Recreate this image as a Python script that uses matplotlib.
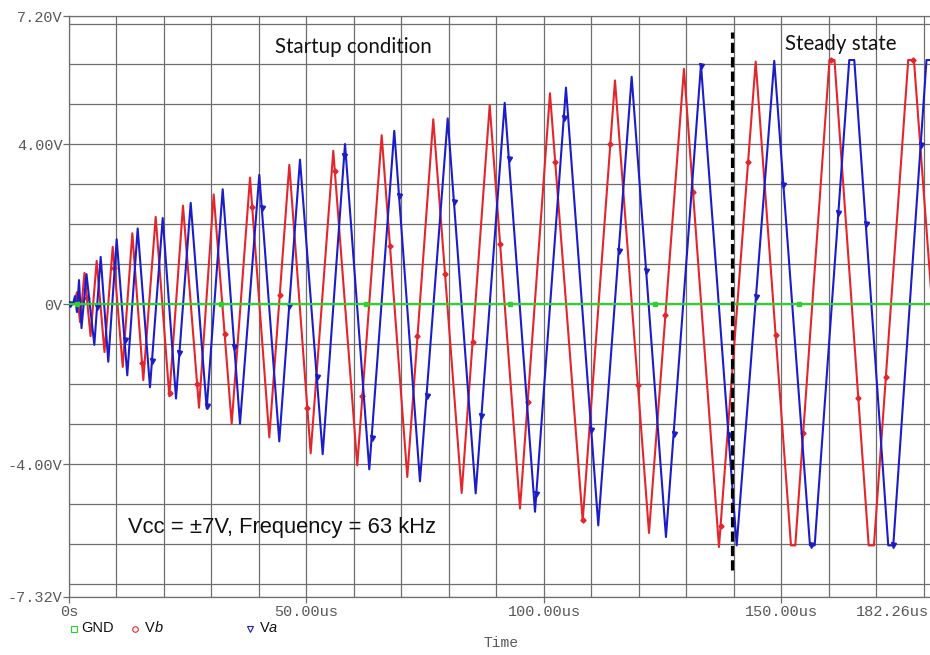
import numpy as np
import matplotlib
matplotlib.use("Agg")
import matplotlib.pyplot as plt
from matplotlib.ticker import MultipleLocator, FixedLocator
from matplotlib.lines import Line2D
from matplotlib.transforms import offset_copy

# ---------------- data (time in us, voltage in V) ----------------
vb_t = [0.00, 1.05, 1.68, 2.32, 3.26, 4.53, 5.83, 7.47, 9.20, 11.31, 13.33, 15.64,
        18.25, 21.12, 24.00, 27.37, 30.46, 34.25, 38.11, 42.17, 46.38, 50.88,
        55.64, 60.69, 65.83, 71.22, 76.69, 82.67, 88.57, 94.95, 101.26, 108.15,
        114.95, 122.11, 129.47, 136.84, 144.57, 152.00, 152.91, 160.11, 161.16,
        168.36, 169.47, 176.69, 177.89, 185.47]
vb_v = [0.00, 0.00, 0.30, -0.45, 0.78, -0.80, 1.08, -1.20, 1.43, -1.57, 1.77, -1.90,
        2.18, -2.30, 2.46, -2.59, 2.74, -2.99, 3.16, -3.33, 3.48, -3.73,
        3.83, -4.03, 4.22, -4.32, 4.62, -4.72, 4.97, -5.11, 5.27, -5.42,
        5.59, -5.72, 5.88, -6.07, 6.06, -6.03, -6.03, 6.10, 6.10,
        -6.03, -6.03, 6.10, 6.10, -6.03]

va_t = [0.00, 0.84, 1.26, 1.68, 2.11, 2.63, 3.68, 5.33, 6.67, 8.27, 10.04, 12.27,
        14.46, 17.05, 19.73, 22.53, 25.62, 28.99, 32.36, 36.00, 40.06, 44.27,
        48.63, 53.41, 58.11, 63.22, 68.48, 73.89, 79.73, 85.62, 91.73, 98.11,
        104.63, 111.43, 118.46, 125.68, 133.05, 140.57, 148.48, 156.00, 156.99,
        164.27, 165.33, 172.48, 173.54, 180.53, 181.58, 189.47]
va_v = [0.00, 0.00, 0.20, -0.20, 0.60, -0.60, 0.75, -1.02, 1.18, -1.44, 1.62, -1.78,
        1.89, -2.08, 2.15, -2.36, 2.53, -2.61, 2.87, -2.99, 3.23, -3.43,
        3.61, -3.75, 4.00, -4.13, 4.33, -4.43, 4.64, -4.73, 5.03, -5.19,
        5.41, -5.53, 5.68, -5.82, 5.98, -6.03, 6.08, -6.03, -6.03,
        6.10, 6.10, -6.03, -6.03, 6.10, 6.10, -6.03]

gnd_t = [0.0, 182.26]
gnd_v = [0.0, 0.0]

x_ticks = [0, 50, 100, 150, 182.26]
x_ticklabels = ["0s", "50.00us", "100.00us", "150.00us", "182.26us"]
y_ticks = [7.20, 4.00, 0.0, -4.00, -7.32]
y_ticklabels = ["7.20V", "4.00V", "0V", "-4.00V", "-7.32V"]

boundary_t = 139.5          # start of steady state (us)
boundary_v = (-6.65, 6.79)

# ---------------- style ----------------
RED = "#e3262c"
BLUE = "#1c1cc8"
GREEN = "#2fd12f"
GRID = "#6e6e6e"
LBL = "#585858"
MONO = "Liberation Mono"

W, H = 930, 655
fig = plt.figure(figsize=(W / 100, H / 100), dpi=100)
fig.patch.set_facecolor("white")
ax = fig.add_axes([69 / W, 58 / H, 865.7 / W, 581 / H])

ax.set_xlim(0, 182.26)
ax.set_ylim(-7.32, 7.20)

# grid
ax.xaxis.set_minor_locator(MultipleLocator(10))
ax.yaxis.set_minor_locator(MultipleLocator(1))
ax.grid(which="minor", color=GRID, lw=0.9)
ax.grid(which="major", color=GRID, lw=0.9)
ax.set_axisbelow(True)
ax.tick_params(which="minor", length=0)

ax.xaxis.set_major_locator(FixedLocator(x_ticks))
ax.set_xticklabels(x_ticklabels)
ax.yaxis.set_major_locator(FixedLocator(y_ticks))
ax.set_yticklabels(y_ticklabels)
ax.tick_params(which="major", length=4, width=0.9, color=GRID, labelcolor=LBL,
               labelsize=11)
ax.tick_params(axis="y", pad=0.5)
ax.tick_params(axis="x", pad=2)
for lab in ax.get_xticklabels() + ax.get_yticklabels():
    lab.set_fontfamily(MONO)
last = ax.get_xticklabels()[-1]
last.set_ha("right")
last.set_transform(offset_copy(last.get_transform(), fig=fig, x=-6, y=0, units="dots"))
for s in ax.spines.values():
    s.set_color(GRID)
    s.set_linewidth(0.9)

# traces
ax.plot(vb_t, vb_v, color=RED, lw=1.5, zorder=3)
ax.plot(va_t, va_v, color=BLUE, lw=1.5, zorder=4)
ax.plot(gnd_t, gnd_v, color=GREEN, lw=1.6, zorder=5)

# PSpice-style trace markers sampled along the traces
vb_mt = np.arange(3.77, 182.26, 5.8)
va_mt = np.arange(0.13, 182.26, 5.78)
gnd_mt = np.arange(1.7, 182.26, 30.4)
ax.plot(vb_mt, np.interp(vb_mt, vb_t, vb_v), ls="none", marker="D", ms=2.6,
        color=RED, zorder=3)
ax.plot(va_mt, np.interp(va_mt, va_t, va_v), ls="none", marker="v", ms=3.6,
        color=BLUE, zorder=4)
ax.plot(gnd_mt, np.interp(gnd_mt, gnd_t, gnd_v), ls="none", marker="s", ms=3.2,
        color=GREEN, zorder=5)

# steady-state boundary
ax.plot([boundary_t, boundary_t], boundary_v, color="black", lw=2.3,
        dashes=(3.2, 1.3), zorder=6)

# annotations
ax.text(0.329, 0.946, "Startup condition", transform=ax.transAxes, fontsize=14.8,
        family="Lato", ha="center", va="center", color="#111111")
ax.text(0.891, 0.952, "Steady state", transform=ax.transAxes, fontsize=14.8,
        family="Lato", ha="center", va="center", color="#111111")
ax.text(128 / W, 1 - 527 / H, "Vcc = \u00b17V, Frequency = 63 kHz",
        transform=fig.transFigure, fontsize=15.8, family="Liberation Sans",
        ha="left", va="center", color="#111111")

# legend row (PSpice style)
ly = 1 - 628.5 / H
fig.add_artist(Line2D([73.5 / W], [ly], marker="s", ms=5, mfc="none", mec=GREEN,
                      mew=0.8, ls="none", transform=fig.transFigure))
fig.text(81.5 / W, ly, "GND", fontsize=10.5, family="Liberation Sans",
         va="center", ha="left", color="#111111")
fig.add_artist(Line2D([135 / W], [ly], marker="o", ms=4, mfc="none", mec=RED,
                      mew=0.8, ls="none", transform=fig.transFigure))
fig.text(145 / W, ly, "V", fontsize=10.5, family="Liberation Sans",
         va="center", ha="left", color="#111111")
fig.text(154.5 / W, ly, "b", fontsize=10.5, family="Liberation Sans",
         style="italic", va="center", ha="left", color="#111111")
fig.add_artist(Line2D([249.5 / W], [ly], marker="v", ms=4.5, mfc="none", mec=BLUE,
                      mew=0.8, ls="none", transform=fig.transFigure))
fig.text(259.5 / W, ly, "V", fontsize=10.5, family="Liberation Sans",
         va="center", ha="left", color="#111111")
fig.text(269 / W, ly, "a", fontsize=10.5, family="Liberation Sans",
         style="italic", va="center", ha="left", color="#111111")

fig.text(500.5 / W, 1 - 643 / H, "Time", fontsize=10.5, family=MONO,
         ha="center", va="center", color=LBL)

fig.savefig("out.png", dpi=100)
